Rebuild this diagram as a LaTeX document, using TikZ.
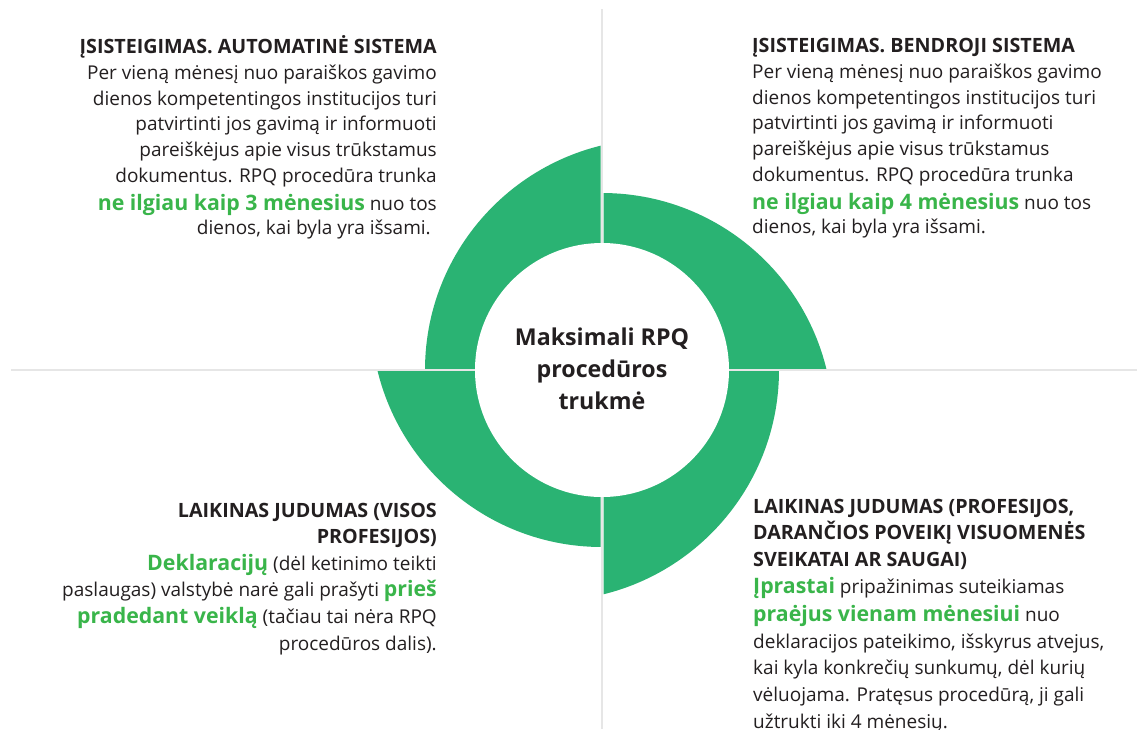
\documentclass[tikz,border=0pt]{standalone}
\usepackage{fontspec}
\setmainfont{Open Sans}
\definecolor{ringgreen}{RGB}{42,179,115}
\definecolor{txtgreen}{RGB}{57,181,74}
\definecolor{txtblack}{RGB}{35,31,32}
\definecolor{axisgrey}{RGB}{230,230,230}
\newcommand\grn[1]{{\color{txtgreen}\bfseries\fontsize{21.3}{26}\selectfont #1}}
\newcommand\hdg[1]{{\bfseries\fontsize{19.7}{26}\selectfont #1}}
\tikzset{
  axisline/.style={draw=axisgrey, line width=2pt},
  ringpart/.style={fill=ringgreen},
  bodytext/.style={inner sep=0pt, text=txtblack, font=\fontsize{19}{25.8}\selectfont},
  lefttext/.style={bodytext, align=right, anchor=base east},
  righttext/.style={bodytext, align=left, anchor=base west},
  centertext/.style={inner sep=0pt, text=txtblack, align=center, anchor=base, font=\bfseries\fontsize{23.2}{32}\selectfont}
}
\begin{document}
\begin{tikzpicture}[x=1pt,y=1pt]
\useasboundingbox (0,0) rectangle (1137,-729);
\fill[white] (0,0) rectangle (1137,-729);
% axes
\coordinate (vtop) at (602,-9);
\coordinate (vbot) at (602,-729);
\coordinate (hleft) at (11,-370);
\coordinate (hright) at (1137,-370);
\draw[axisline] (vtop) -- (vbot);
\draw[axisline] (hleft) -- (hright);
% ring
\begin{scope}[shift={(602,-370)}]
  \begin{scope}
    \clip (-300,1.5) rectangle (-1.5,300);
    \fill[ringpart] (54,0) circle (231);
  \end{scope}
  \begin{scope}
    \clip (1.5,1.5) rectangle (300,300);
    \fill[ringpart] (0,-54) circle (231);
  \end{scope}
  \begin{scope}
    \clip (1.5,-1.5) rectangle (300,-300);
    \fill[ringpart] (-54,0) circle (231);
  \end{scope}
  \begin{scope}
    \clip (-300,-1.5) rectangle (-1.5,-300);
    \fill[ringpart] (0,54) circle (231);
  \end{scope}
  \fill[white] (0,0) circle (127);
  \node[centertext] (title) at (0,-39) {Maksimali RPQ\\procedūros\\trukmė};
\end{scope}
% text blocks (anchor = baseline of last line)
\node[lefttext] (tl) at (437,-234) {\hdg{ĮSISTEIGIMAS. AUTOMATINĖ SISTEMA}\\
Per vieną mėnesį nuo paraiškos gavimo\\
dienos kompetentingos institucijos turi\\
patvirtinti jos gavimą ir informuoti\\
pareiškėjus apie visus trūkstamus\\
dokumentus. RPQ procedūra trunka\\[2pt]
\grn{ne ilgiau kaip 3 mėnesius} nuo tos\\[-2pt]
dienos, kai byla yra išsami.\hspace*{6pt}};
\node[righttext] (tr) at (752,-233) {\hdg{ĮSISTEIGIMAS. BENDROJI SISTEMA}\\
Per vieną mėnesį nuo paraiškos gavimo\\
dienos kompetentingos institucijos turi\\
patvirtinti jos gavimą ir informuoti\\
pareiškėjus apie visus trūkstamus\\
dokumentus. RPQ procedūra trunka\\[2pt]
\grn{ne ilgiau kaip 4 mėnesius} nuo tos\\[-2pt]
dienos, kai byla yra išsami.};
\node[lefttext, font=\fontsize{19}{26.6}\selectfont] (bl) at (437,-650) {\hdg{LAIKINAS JUDUMAS (VISOS}\\
\hdg{PROFESIJOS)}\\
\grn{Deklaracijų} (dėl ketinimo teikti\\
paslaugas) valstybė narė gali prašyti \grn{prieš}\\
\grn{pradedant veiklą} (tačiau tai nėra RPQ\\
procedūros dalis).};
\node[righttext, font=\fontsize{19}{26.6}\selectfont] (br) at (753,-728) {\hdg{LAIKINAS JUDUMAS (PROFESIJOS,}\\
\hdg{DARANČIOS POVEIKĮ VISUOMENĖS}\\
\hdg{SVEIKATAI AR SAUGAI)}\\
\grn{Įprastai} pripažinimas suteikiamas\\[2pt]
\grn{praėjus vienam mėnesiui} nuo\\
deklaracijos pateikimo, išskyrus atvejus,\\
kai kyla konkrečių sunkumų, dėl kurių\\
vėluojama. Pratęsus procedūrą, ji gali\\
užtrukti iki 4 mėnesių.};
\end{tikzpicture}
\end{document}
